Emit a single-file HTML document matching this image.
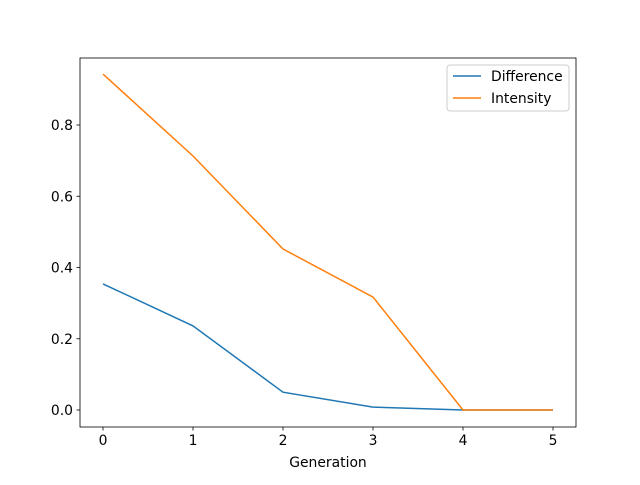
<!DOCTYPE html>
<html><head><meta charset="utf-8"><style>
body{margin:0;background:#fff}
svg text{font-family:"DejaVu Sans","Liberation Sans",sans-serif;font-size:13.9px;fill:#000}
</style></head><body>
<svg id="chart" width="640" height="480">
<rect width="640" height="480" fill="#fff"/>
<g id="plot"></g>
</svg>
<script>
const generations=[0,1,2,3,4,5];
const difference=[0.354,0.236,0.05,0.008,0,0];
const intensity=[0.943,0.713,0.452,0.317,0,0];
const xTicks=[0,1,2,3,4,5];
const yTicks=[0.0,0.2,0.4,0.6,0.8];
const yTickLabels=["0.0","0.2","0.4","0.6","0.8"];
const seriesNames=["Difference","Intensity"];

const L=80,R=576,T=58,B=427;
const xs=v=>103+v*90;
const ys=v=>410-v*356.25;
const NS="http://www.w3.org/2000/svg";
const g=document.getElementById('plot');
function mk(t,a,p){const e=document.createElementNS(NS,t);for(const k in a)e.setAttribute(k,a[k]);(p||g).appendChild(e);return e;}

const series=[[difference,'#1f77b4'],[intensity,'#ff7f0e']];
series.forEach((s,i)=>{
  const p=mk('polyline',{points:generations.map((x,j)=>xs(x)+','+ys(s[0][j])).join(' '),fill:'none',stroke:s[1],'stroke-width':1.5});
  
  
});
const frame=mk('rect',{x:L,y:T,width:R-L,height:B-T,fill:'none',stroke:'#000','stroke-width':0.8});



xTicks.forEach(v=>{
  mk('line',{x1:xs(v),x2:xs(v),y1:B,y2:B+3.5,stroke:'#000','stroke-width':0.8});
  const t=mk('text',{x:xs(v),y:B+18,'text-anchor':'middle'});t.textContent=v;
  
  
});
yTicks.forEach((v,i)=>{
  mk('line',{x1:L-3.5,x2:L,y1:ys(v),y2:ys(v),stroke:'#000','stroke-width':0.8});
  const t=mk('text',{x:L-7,y:ys(v)+5,'text-anchor':'end'});t.textContent=yTickLabels[i];
  
  
});
const xl=mk('text',{x:(L+R)/2,y:467,'text-anchor':'middle'});xl.textContent='Generation';



const lg=mk('g',{});


mk('rect',{x:447,y:65,width:122,height:46,rx:3,fill:'#fff',stroke:'#ccc','stroke-width':1},lg);
series.forEach((s,i)=>{
  const y=76+i*22;
  const e=mk('g',{},lg);
  
  
  mk('line',{x1:453,x2:481,y1:y,y2:y,stroke:s[1],'stroke-width':1.5},e);
  const t=mk('text',{x:491,y:y+5},e);t.textContent=seriesNames[i];
});
</script>
</body></html>
